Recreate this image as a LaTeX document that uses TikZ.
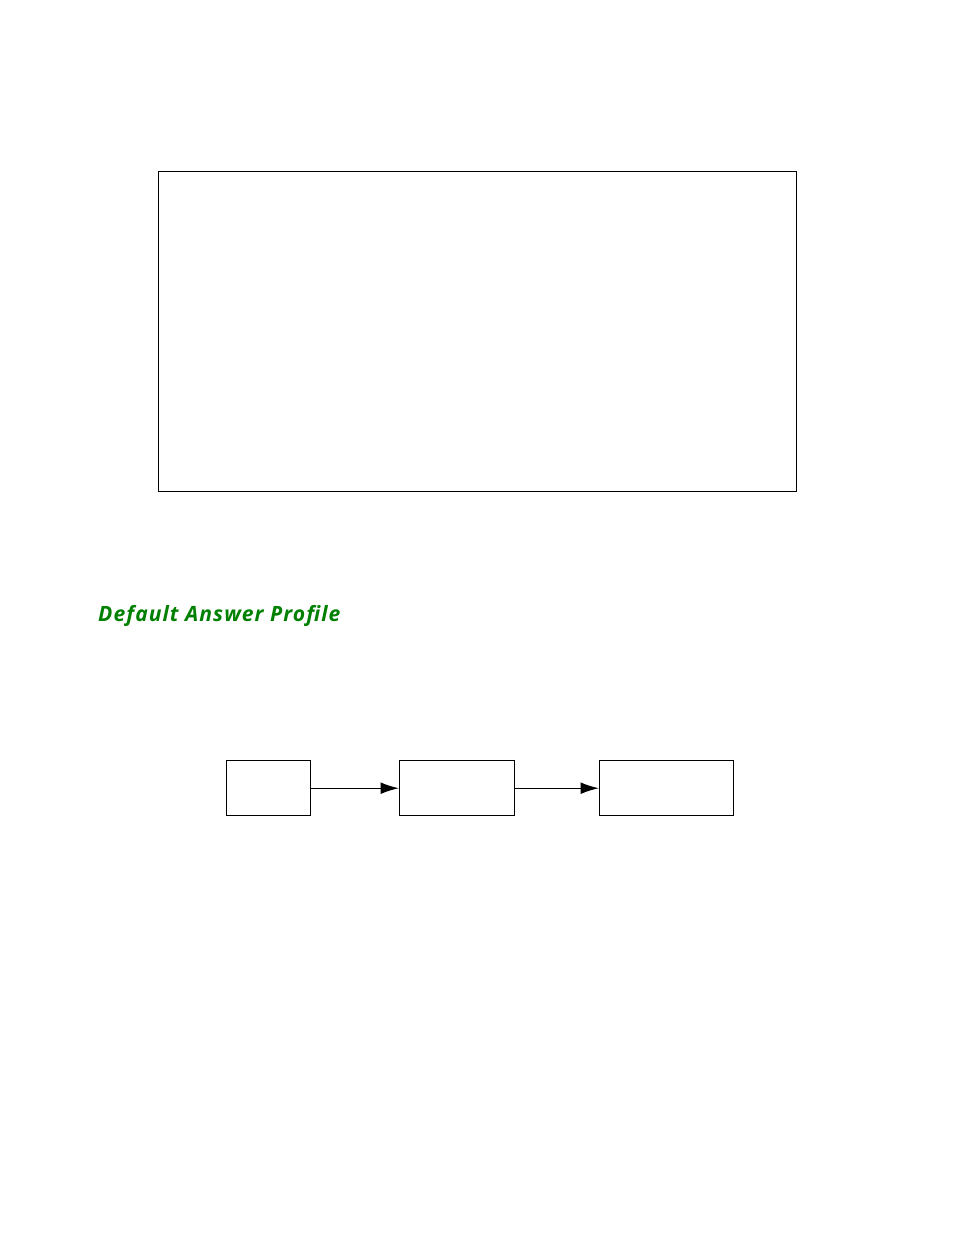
\documentclass[tikz,border=0pt]{standalone}
\usepackage{fontspec}
\setmainfont{Open Sans}
\usepackage{tikz}
\usetikzlibrary{arrows.meta}
\tikzset{>={Latex[length=5.5mm,width=3.5mm]}}
\tikzset{stagebox/.style={draw,line width=1.2pt,inner sep=0pt,anchor=north west}}
\definecolor{titlegreen}{RGB}{0,128,0}

\begin{document}
\begin{tikzpicture}[x=0.03cm,y=-0.03cm]
            \draw[draw=none,use as bounding box] (0,0) rectangle (954,1235);
            \node[stagebox,minimum width=638*0.03cm,minimum height=320*0.03cm] (panel) at (158,171){};
            \node[anchor=base west,inner sep=0pt,text=titlegreen,font=\fontsize{18}{20}\selectfont\bfseries\itshape\addfontfeature{LetterSpace=5}] (title) at (98,621){Default Answer Profile};
            \node[stagebox,minimum width=84*0.03cm,minimum height=55*0.03cm] (a) at (226,760){};
            \node[stagebox,minimum width=115*0.03cm,minimum height=55*0.03cm] (b) at (399,760){};
            \node[stagebox,minimum width=134*0.03cm,minimum height=55*0.03cm] (c) at (599,760){};
            \draw[->,line width=1.2pt] (a) -- (b);
            \draw[->,line width=1.2pt] (b) -- (c);
        \end{tikzpicture}
\end{document}
